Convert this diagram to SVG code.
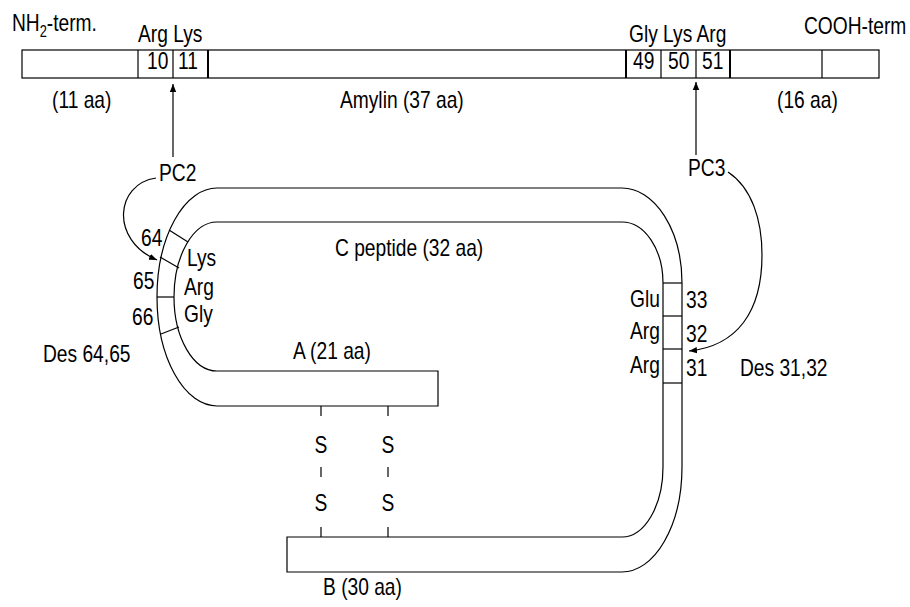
<svg xmlns="http://www.w3.org/2000/svg" width="910" height="607" viewBox="0 0 910 607">
<defs>
<style>
text{font-family:"Liberation Sans",Arial,sans-serif;font-size:24px;fill:#000}
.ln{fill:none;stroke:#000;stroke-width:1.2}
.thk{stroke-width:2}
.conn{fill:none;stroke:#000;stroke-width:1.2}
</style>
<marker id="ah" markerWidth="9" markerHeight="8" refX="8" refY="4" orient="auto" markerUnits="userSpaceOnUse">
<path d="M0,0.8 L8,4 L0,7.2 Z" fill="#000"/>
</marker>
</defs>
<rect width="910" height="607" fill="#fff"/>

<g id="proIAPP">
<rect class="ln" x="22" y="50" width="857" height="28"/>
<line class="ln" x1="138" y1="50" x2="138" y2="78"/>
<line class="ln" x1="173" y1="50" x2="173" y2="78"/>
<line class="ln thk" x1="208" y1="50" x2="208" y2="78"/>
<line class="ln thk" x1="626" y1="50" x2="626" y2="78"/>
<line class="ln" x1="661" y1="50" x2="661" y2="78"/>
<line class="ln" x1="696" y1="50" x2="696" y2="78"/>
<line class="ln thk" x1="730" y1="50" x2="730" y2="78"/>
<line class="ln" x1="822" y1="50" x2="822" y2="78"/>
<text transform="translate(12,31) scale(0.8,1)">NH<tspan font-size="16" dy="6">2</tspan><tspan dy="-6">-term.</tspan></text>
<text transform="translate(138,42) scale(0.8,1)">Arg Lys</text>
<text transform="translate(147,69) scale(0.8,1)">10</text>
<text transform="translate(178,69) scale(0.8,1)">11</text>
<text transform="translate(629,42) scale(0.8,1)">Gly Lys Arg</text>
<text transform="translate(633,69) scale(0.8,1)">49</text>
<text transform="translate(668,69) scale(0.8,1)">50</text>
<text transform="translate(702,69) scale(0.8,1)">51</text>
<text transform="translate(804,34) scale(0.8,1)">COOH-term</text>
<text transform="translate(52,108) scale(0.8,1)">(11 aa)</text>
<text transform="translate(340,108) scale(0.8,1)">Amylin (37 aa)</text>
<text transform="translate(777,108) scale(0.8,1)">(16 aa)</text>
</g>

<g id="proinsulin">
<path class="ln" d="M438,371 L217,371 A43,74 0 0 1 174,297 A43,75 0 0 1 217,222 L622,222 A41,61 0 0 1 663,283 L663,467 A41,70 0 0 1 622,537 L287,537 L287,572 L622,572 A60,105 0 0 0 682,467 L682,283 A60,95 0 0 0 622,188 L217,188 A60,109 0 0 0 157,297 A60,109 0 0 0 217,406 L438,406 Z"/>
<line class="ln" x1="169" y1="230" x2="188" y2="242"/>
<line class="ln" x1="160" y1="257" x2="179" y2="268"/>
<line class="ln" x1="157" y1="297" x2="174" y2="297"/>
<line class="ln" x1="161" y1="334" x2="179" y2="327"/>
<line class="ln" x1="663" y1="283" x2="682" y2="283"/>
<line class="ln" x1="663" y1="316" x2="682" y2="316"/>
<line class="ln" x1="663" y1="349" x2="682" y2="349"/>
<line class="ln" x1="663" y1="383" x2="682" y2="383"/>
<text transform="translate(141,246) scale(0.8,1)">64</text>
<text transform="translate(133,289) scale(0.8,1)">65</text>
<text transform="translate(132,325) scale(0.8,1)">66</text>
<text transform="translate(187,266) scale(0.8,1)">Lys</text>
<text transform="translate(184,295) scale(0.8,1)">Arg</text>
<text transform="translate(184,322) scale(0.8,1)">Gly</text>
<text transform="translate(43,362) scale(0.8,1)">Des 64,65</text>
<text transform="translate(335,256) scale(0.8,1)">C peptide (32 aa)</text>
<text transform="translate(293,359) scale(0.8,1)">A (21 aa)</text>
<text transform="translate(323,595) scale(0.8,1)">B (30 aa)</text>
<text transform="translate(630,307) scale(0.8,1)">Glu</text>
<text transform="translate(630,339) scale(0.8,1)">Arg</text>
<text transform="translate(630,373) scale(0.8,1)">Arg</text>
<text transform="translate(686,308) scale(0.8,1)">33</text>
<text transform="translate(686,342) scale(0.8,1)">32</text>
<text transform="translate(686,376) scale(0.8,1)">31</text>
<text transform="translate(740,376) scale(0.8,1)">Des 31,32</text>
</g>

<g id="disulfide">
<line class="ln" x1="321" y1="406" x2="321" y2="416"/>
<line class="ln" x1="321" y1="467" x2="321" y2="477"/>
<line class="ln" x1="321" y1="527" x2="321" y2="537"/>
<line class="ln" x1="388" y1="406" x2="388" y2="416"/>
<line class="ln" x1="388" y1="467" x2="388" y2="477"/>
<line class="ln" x1="388" y1="527" x2="388" y2="537"/>
<text text-anchor="middle" transform="translate(321,453) scale(0.8,1)">S</text>
<text text-anchor="middle" transform="translate(321,511) scale(0.8,1)">S</text>
<text text-anchor="middle" transform="translate(388,453) scale(0.8,1)">S</text>
<text text-anchor="middle" transform="translate(388,511) scale(0.8,1)">S</text>
</g>

<g id="PC2">
<text transform="translate(159,181) scale(0.8,1)">PC2</text>
</g>
<g id="PC3">
<text transform="translate(688,176) scale(0.8,1)">PC3</text>
</g>

<g id="connectors">
<line class="conn" x1="173" y1="157" x2="173" y2="84" marker-end="url(#ah)"/>
<line class="conn" x1="696" y1="155" x2="696" y2="82" marker-end="url(#ah)"/>
<path class="conn" d="M156,178 C115,184 110,240 157,260" marker-end="url(#ah)"/>
<path class="conn" d="M728,172 C752,188 762,220 762,255 C762,312 737,346 689,351" marker-end="url(#ah)"/>
</g>
</svg>
